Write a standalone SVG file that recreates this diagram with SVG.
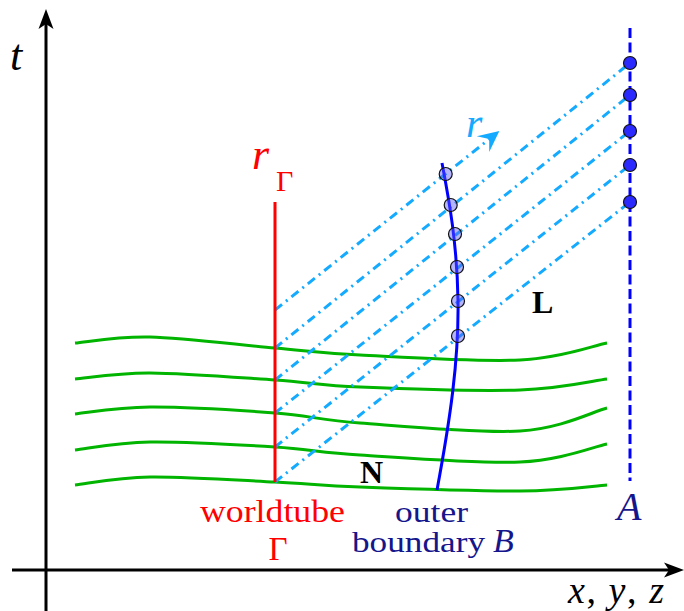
<svg xmlns="http://www.w3.org/2000/svg" width="684" height="611" viewBox="0 0 684 611">
<style>
.ax{stroke:#000;stroke-width:3;fill:none}
.sl{stroke:#00b400;stroke-width:3;fill:none}
.ray{stroke:#14aaff;stroke-width:3;fill:none;stroke-dasharray:9 5 2 5}
.tx{font-family:"Liberation Serif",serif}
.it{font-style:italic}
.mono{font-family:"Liberation Serif",serif;font-weight:bold}
.nv{fill:#16168c}
.bd{fill:#2a2aff;stroke:#111;stroke-width:1.2}
.od{fill:#5a5aff;fill-opacity:0.45;stroke:#111;stroke-width:1.2}
</style>
<defs>
<marker id="ah" markerUnits="userSpaceOnUse" markerWidth="30" markerHeight="30" viewBox="-25 -15 30 30" refX="-14" refY="0" orient="auto">
<path d="M0,0 L-20,-7.5 L-15,0 L-20,7.5 Z" fill="#000"/>
</marker>
<marker id="ahb" markerUnits="userSpaceOnUse" markerWidth="30" markerHeight="30" viewBox="-25 -15 30 30" refX="-12" refY="0" orient="auto">
<path d="M0,0 L-21,-10 L-13,0 L-21,10 Z" fill="#14aaff"/>
</marker>
</defs>

<g id="axes">
<line class="ax" x1="46" y1="611" x2="46" y2="23" marker-end="url(#ah)"/>
<line class="ax" x1="12" y1="570" x2="670" y2="570" marker-end="url(#ah)"/>
<text class="tx it" x="10" y="70" font-size="44">t</text>
<text class="tx" x="568" y="603" font-size="38" textLength="96"><tspan class="it">x</tspan>, <tspan class="it">y</tspan>, <tspan class="it">z</tspan></text>
</g>

<g id="slices">
<path class="sl" d="M75,343 C87.5,342 116.7,336.2 150,337 C183.3,337.8 240,345 275,348 C310,351 319.2,353 360,355 C400.8,357 478.8,362 520,360 C561.2,358 592.5,345.8 607,343"/>
<path class="sl" d="M75,379 C87.5,378 116.7,372.8 150,373 C183.3,373.2 240,377.7 275,380 C310,382.3 319.2,385.3 360,387 C400.8,388.7 478.8,391.3 520,390 C561.2,388.7 592.5,380.8 607,379"/>
<path class="sl" d="M75,414 C87.5,412.8 116.7,407.2 150,407 C183.3,406.8 240,410.3 275,413 C310,415.7 319.2,420 360,423 C400.8,426 478.8,433.5 520,431 C561.2,428.5 592.5,411.8 607,408"/>
<path class="sl" d="M75,450 C87.5,448.7 116.7,442.5 150,442 C183.3,441.5 240,444.8 275,447 C310,449.2 319.2,452.5 360,455 C400.8,457.5 478.8,463.8 520,462 C561.2,460.2 592.5,447 607,444"/>
<path class="sl" d="M75,485 C87.5,483.7 116.7,477.5 150,477 C183.3,476.5 240,480.3 275,482 C310,483.7 319.2,485.5 360,487 C400.8,488.5 478.8,491.3 520,491 C561.2,490.7 592.5,486 607,485"/>
</g>

<g id="connectors">
<line class="ray" x1="275" y1="310" x2="490" y2="138.5" marker-end="url(#ahb)"/>
<line class="ray" x1="275" y1="348" x2="630" y2="63"/>
<line class="ray" x1="275" y1="380" x2="630" y2="95"/>
<line class="ray" x1="275" y1="413" x2="630" y2="131"/>
<line class="ray" x1="275" y1="447" x2="630" y2="165"/>
<line class="ray" x1="275" y1="482" x2="630" y2="202"/>
</g>

<g id="worldtube">
<line x1="275" y1="202" x2="275" y2="482" stroke="#ff0000" stroke-width="3"/>
<text class="tx it" x="252" y="169" font-size="44" fill="#ff0000">r</text>
<text class="tx" x="276" y="191" font-size="30" fill="#ff0000">Γ</text>
<text class="tx" x="200" y="522" font-size="31" fill="#ff0000" textLength="145" lengthAdjust="spacingAndGlyphs">worldtube</text>
<text class="tx" x="278" y="560" font-size="33" fill="#ff0000" text-anchor="middle">Γ</text>
</g>

<g id="boundary">
<path d="M442,163 C448,195 457,240 458,300 C459,360 450,420 437,490" stroke="#0000ff" stroke-width="3" fill="none"/>
<circle class="od" cx="445.7" cy="174" r="6.5"/>
<circle class="od" cx="450.7" cy="205" r="6.5"/>
<circle class="od" cx="455" cy="234" r="6.5"/>
<circle class="od" cx="457" cy="267" r="6.5"/>
<circle class="od" cx="458" cy="301" r="6.5"/>
<circle class="od" cx="458" cy="336" r="6.5"/>
<text class="tx nv" font-size="30"><tspan x="395" y="522" textLength="73" lengthAdjust="spacingAndGlyphs">outer</tspan><tspan x="352" y="552" textLength="133" lengthAdjust="spacingAndGlyphs">boundary</tspan><tspan class="it" font-size="34" x="493" y="552">B</tspan></text>
</g>

<g id="scri">
<line x1="630" y1="28" x2="630" y2="481" stroke="#0000ff" stroke-width="3" stroke-dasharray="10 4.5"/>
<circle class="bd" cx="630" cy="63" r="6.5"/>
<circle class="bd" cx="630" cy="95" r="6.5"/>
<circle class="bd" cx="630" cy="131" r="6.5"/>
<circle class="bd" cx="630" cy="165" r="6.5"/>
<circle class="bd" cx="630" cy="202" r="6.5"/>
<text class="tx it nv" x="617" y="520" font-size="40">A</text>
</g>

<g id="labels">
<text class="tx it" x="466" y="137" font-size="42" fill="#14aaff">r</text>
<text class="mono" x="532" y="313" font-size="32">L</text>
<text class="mono" x="360" y="483" font-size="32">N</text>
</g>
</svg>
